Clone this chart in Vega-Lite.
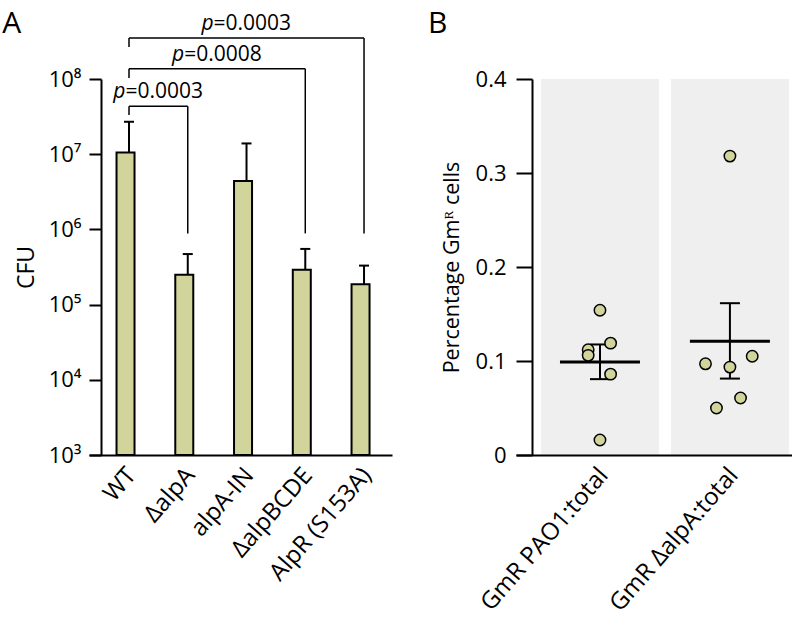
{
  "$schema": "https://vega.github.io/schema/vega-lite/v6.json",
  "padding": {"left": 2, "top": 8, "right": 0, "bottom": 0},
  "background": "white",
  "spacing": 36,
  "config": {
    "font": "Open Sans",
    "view": {"stroke": null},
    "axis": {"domainColor": "black", "tickColor": "black", "labelColor": "black", "titleColor": "black", "grid": false, "domainWidth": 2, "tickWidth": 2, "labelFont": "Open Sans", "titleFont": "Open Sans", "titleFontWeight": "normal", "labelLimit": 0},
    "title": {"anchor": "start", "frame": "bounds", "fontSize": 30, "fontWeight": "normal", "font": "Open Sans", "color": "black"}
  },
  "datasets": {
    "bars": [
      {"strain": "WT", "cfu": 10500000, "upper": 27000000},
      {"strain": "ΔalpA", "cfu": 250000, "upper": 470000},
      {"strain": "alpA-IN", "cfu": 4400000, "upper": 13900000},
      {"strain": "ΔalpBCDE", "cfu": 290000, "upper": 550000},
      {"strain": "AlpR (S153A)", "cfu": 187000, "upper": 330000}
    ],
    "brackets": [
      {"id": 1, "from": "WT", "to": "ΔalpA", "bar_y": 43300000, "left_end": 33100000, "right_end": 885000, "label": "=0.0003"},
      {"id": 2, "from": "WT", "to": "ΔalpBCDE", "bar_y": 137000000, "left_end": 103000000, "right_end": 885000, "label": "=0.0008"},
      {"id": 3, "from": "WT", "to": "AlpR (S153A)", "bar_y": 352000000, "left_end": 267000000, "right_end": 885000, "label": "=0.0003"}
    ],
    "points": [
      {"group": "GmR PAO1:total", "value": 0.154, "jitter": 0.5},
      {"group": "GmR PAO1:total", "value": 0.119, "jitter": 0.59},
      {"group": "GmR PAO1:total", "value": 0.112, "jitter": 0.40},
      {"group": "GmR PAO1:total", "value": 0.106, "jitter": 0.40},
      {"group": "GmR PAO1:total", "value": 0.086, "jitter": 0.59},
      {"group": "GmR PAO1:total", "value": 0.016, "jitter": 0.5},
      {"group": "GmR ΔalpA:total", "value": 0.318, "jitter": 0.5},
      {"group": "GmR ΔalpA:total", "value": 0.097, "jitter": 0.293},
      {"group": "GmR ΔalpA:total", "value": 0.0935, "jitter": 0.5},
      {"group": "GmR ΔalpA:total", "value": 0.105, "jitter": 0.689},
      {"group": "GmR ΔalpA:total", "value": 0.0606, "jitter": 0.59},
      {"group": "GmR ΔalpA:total", "value": 0.050, "jitter": 0.386}
    ],
    "summary": [
      {"group": "GmR PAO1:total", "mean": 0.099, "lo": 0.0807, "hi": 0.1176},
      {"group": "GmR ΔalpA:total", "mean": 0.121, "lo": 0.0813, "hi": 0.1615}
    ]
  },
  "hconcat": [
    {
      "title": {"text": "A", "dx": -13, "dy": 30},
      "width": 303,
      "height": 376,
      "layer": [
        {
          "data": {"name": "bars"},
          "mark": {"type": "bar", "fill": "#d2d59b", "stroke": "black", "strokeWidth": 2},
          "encoding": {
            "x": {"field": "strain", "type": "nominal",
              "scale": {"domain": ["WT", "ΔalpA", "alpA-IN", "ΔalpBCDE", "AlpR (S153A)"], "paddingInner": 0.575, "paddingOuter": 0.366, "align": 0.64},
              "axis": {"title": null, "labelAngle": -49, "ticks": false, "labelFontSize": 24, "labelPadding": 16, "labelOffset": 3, "labelLimit": 0}},
            "y": {"field": "cfu", "type": "quantitative",
              "scale": {"type": "log", "domain": [1000, 100000000]},
              "axis": {"title": "CFU", "titleFontSize": 23, "titlePadding": 10, "offset": -12, "tickSize": 12, "labelFontSize": 22, "labelPadding": 8,
                "values": [1000, 10000, 100000, 1000000, 10000000, 100000000],
                "labelExpr": "'10' + ['⁰','¹','²','³','⁴','⁵','⁶','⁷','⁸','⁹'][round(log(datum.value)/LN10)]"}},
            "y2": {"datum": 1000}
          }
        },
        {
          "data": {"name": "bars"},
          "mark": {"type": "rule", "strokeWidth": 2, "color": "black", "opacity": 1},
          "encoding": {
            "x": {"field": "strain", "type": "nominal"},
            "y": {"field": "cfu", "type": "quantitative"},
            "y2": {"field": "upper"}
          }
        },
        {
          "data": {"name": "bars"},
          "mark": {"type": "tick", "orient": "horizontal", "size": 10, "thickness": 2, "color": "black", "opacity": 1},
          "encoding": {
            "x": {"field": "strain", "type": "nominal"},
            "y": {"field": "upper", "type": "quantitative"}
          }
        },
        {
          "data": {"name": "brackets"},
          "mark": {"type": "rule", "strokeWidth": 1.5, "color": "black"},
          "encoding": {
            "x": {"field": "from", "type": "nominal", "bandPosition": 0.5},
            "x2": {"field": "to", "bandPosition": 0.5},
            "y": {"field": "bar_y", "type": "quantitative"}
          }
        },
        {
          "data": {"name": "brackets"},
          "mark": {"type": "rule", "strokeWidth": 1.5, "color": "black"},
          "encoding": {
            "x": {"field": "from", "type": "nominal", "bandPosition": 0.5},
            "y": {"field": "bar_y", "type": "quantitative"},
            "y2": {"field": "left_end"}
          }
        },
        {
          "data": {"name": "brackets"},
          "mark": {"type": "rule", "strokeWidth": 1.5, "color": "black"},
          "encoding": {
            "x": {"field": "to", "type": "nominal", "bandPosition": 0.5},
            "y": {"field": "bar_y", "type": "quantitative"},
            "y2": {"field": "right_end"}
          }
        },
        {
          "data": {"name": "brackets"},
          "transform": [{"filter": "datum.id == 1"}],
          "encoding": {
            "x": {"field": "from", "type": "nominal", "bandPosition": 1.676},
            "y": {"field": "bar_y", "type": "quantitative"}
          },
          "layer": [
            {"mark": {"type": "text", "text": "p", "fontStyle": "italic", "align": "right", "baseline": "alphabetic", "dx": -33, "dy": -8, "fontSize": 21, "color": "black"}},
            {"mark": {"type": "text", "align": "left", "baseline": "alphabetic", "dx": -33, "dy": -8, "fontSize": 21, "color": "black"}, "encoding": {"text": {"field": "label"}}}
          ]
        },
        {
          "data": {"name": "brackets"},
          "transform": [{"filter": "datum.id == 2"}],
          "encoding": {
            "x": {"field": "from", "type": "nominal", "bandPosition": 4.029},
            "y": {"field": "bar_y", "type": "quantitative"}
          },
          "layer": [
            {"mark": {"type": "text", "text": "p", "fontStyle": "italic", "align": "right", "baseline": "alphabetic", "dx": -33, "dy": -8, "fontSize": 21, "color": "black"}},
            {"mark": {"type": "text", "align": "left", "baseline": "alphabetic", "dx": -33, "dy": -8, "fontSize": 21, "color": "black"}, "encoding": {"text": {"field": "label"}}}
          ]
        },
        {
          "data": {"name": "brackets"},
          "transform": [{"filter": "datum.id == 3"}],
          "encoding": {
            "x": {"field": "from", "type": "nominal", "bandPosition": 5.206},
            "y": {"field": "bar_y", "type": "quantitative"}
          },
          "layer": [
            {"mark": {"type": "text", "text": "p", "fontStyle": "italic", "align": "right", "baseline": "alphabetic", "dx": -33, "dy": -8, "fontSize": 21, "color": "black"}},
            {"mark": {"type": "text", "align": "left", "baseline": "alphabetic", "dx": -33, "dy": -8, "fontSize": 21, "color": "black"}, "encoding": {"text": {"field": "label"}}}
          ]
        }
      ]
    },
    {
      "title": {"text": "B", "dx": -13, "dy": -25},
      "width": 276,
      "height": 376,
      "layer": [
        {
          "data": {"name": "summary"},
          "mark": {"type": "rect", "color": "#efefef"},
          "encoding": {
            "x": {"field": "group", "type": "nominal", "bandPosition": 0,
              "scale": {"domain": ["GmR PAO1:total", "GmR ΔalpA:total"], "paddingInner": 0.092, "paddingOuter": 0.108, "align": 0.89},
              "axis": {"title": null, "labelAngle": -49, "ticks": false, "labelFontSize": 24, "labelPadding": 16, "labelOffset": 4, "labelLimit": 0}},
            "x2": {"field": "group", "bandPosition": 1},
            "y": {"datum": 0.4, "type": "quantitative",
              "scale": {"domain": [0, 0.4]},
              "axis": {"title": "Percentage Gmᴿ cells", "titleFontSize": 21.5, "titlePadding": 12, "offset": -16, "tickSize": 16, "labelFontSize": 22, "labelPadding": 10,
                "values": [0, 0.1, 0.2, 0.3, 0.4], "format": ".1~f"}},
            "y2": {"datum": 0}
          }
        },
        {
          "data": {"name": "summary"},
          "mark": {"type": "rule", "strokeWidth": 2, "color": "black", "opacity": 1},
          "encoding": {
            "x": {"field": "group", "type": "nominal"},
            "y": {"field": "lo", "type": "quantitative"},
            "y2": {"field": "hi"}
          }
        },
        {
          "data": {"name": "summary"},
          "mark": {"type": "tick", "orient": "horizontal", "size": 20, "thickness": 2, "color": "black", "opacity": 1},
          "encoding": {
            "x": {"field": "group", "type": "nominal"},
            "y": {"field": "lo", "type": "quantitative"}
          }
        },
        {
          "data": {"name": "summary"},
          "mark": {"type": "tick", "orient": "horizontal", "size": 20, "thickness": 2, "color": "black", "opacity": 1},
          "encoding": {
            "x": {"field": "group", "type": "nominal"},
            "y": {"field": "hi", "type": "quantitative"}
          }
        },
        {
          "data": {"name": "summary"},
          "mark": {"type": "tick", "orient": "horizontal", "size": 80, "thickness": 3, "color": "black", "opacity": 1},
          "encoding": {
            "x": {"field": "group", "type": "nominal"},
            "y": {"field": "mean", "type": "quantitative"}
          }
        },
        {
          "data": {"name": "points"},
          "mark": {"type": "circle", "size": 130, "fill": "#d2d59b", "stroke": "black", "strokeWidth": 1.5, "opacity": 1},
          "encoding": {
            "x": {"field": "group", "type": "nominal"},
            "xOffset": {"field": "jitter", "type": "quantitative", "scale": {"domain": [0, 1]}},
            "y": {"field": "value", "type": "quantitative"}
          }
        }
      ]
    }
  ]
}
